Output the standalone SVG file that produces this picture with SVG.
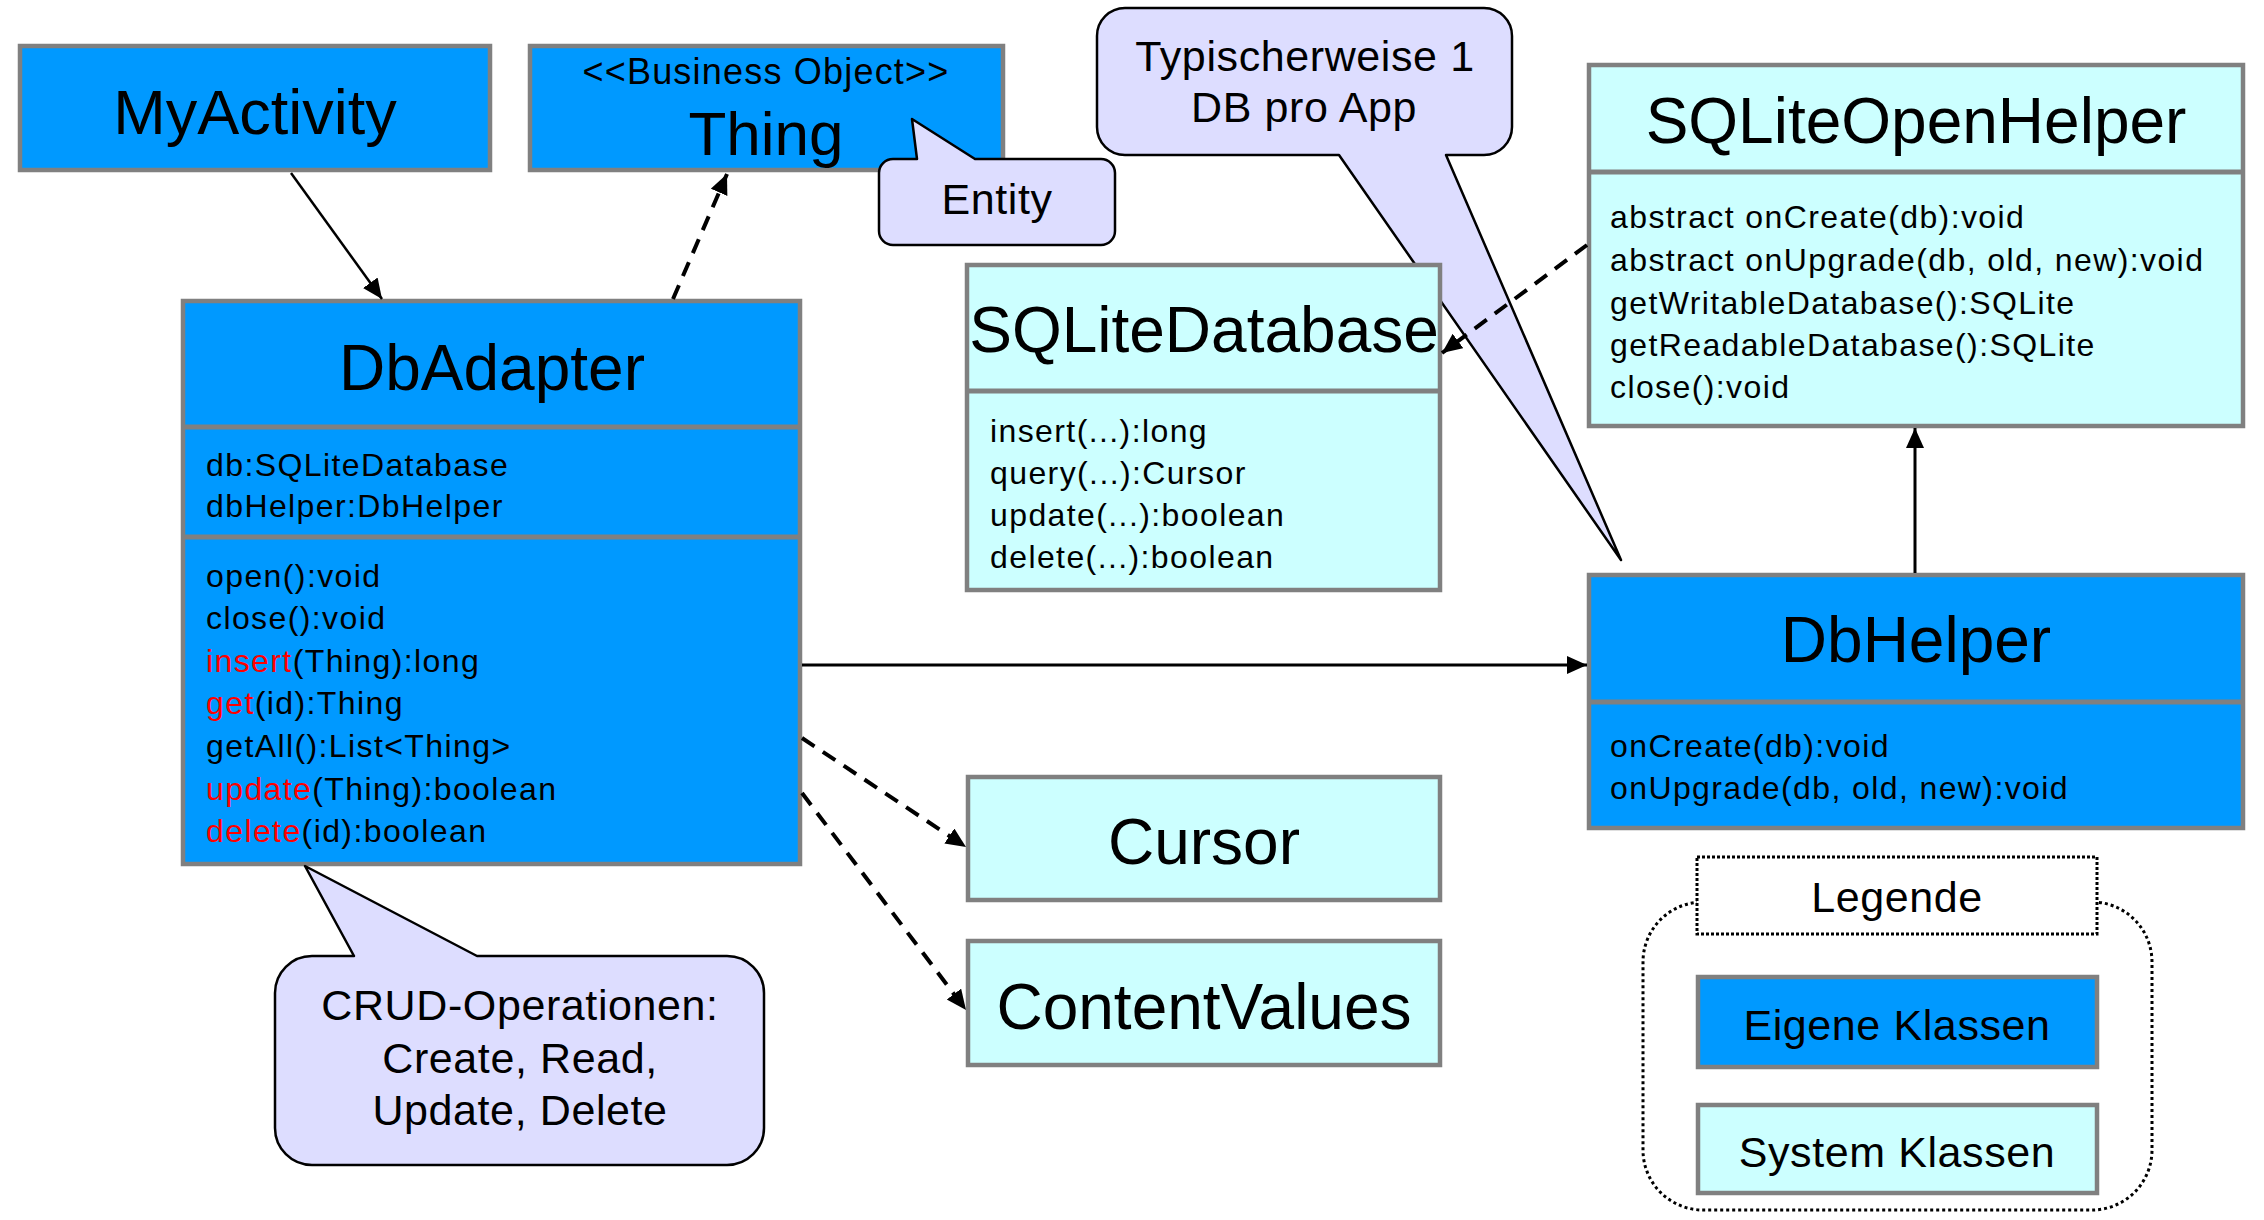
<svg xmlns="http://www.w3.org/2000/svg" width="2264" height="1220" viewBox="0 0 2264 1220">
<defs>
<style>
.own{fill:#0099FF;stroke:#808080;stroke-width:4.5}
.sys{fill:#CCFFFF;stroke:#808080;stroke-width:4.5}
.div{stroke:#808080;stroke-width:5}
.call{fill:#DDDDFF;stroke:#000;stroke-width:2.5;stroke-linejoin:round}
text{font-family:"Liberation Sans",Arial,sans-serif;fill:#000}
.title{font-size:64px;text-anchor:middle}
.small{font-size:32px;letter-spacing:1.4px}
.mid{font-size:43px;letter-spacing:0.6px;text-anchor:middle}
.red{fill:#FF0000}
.solid{stroke:#000;stroke-width:3;fill:none}
.dash{stroke:#000;stroke-width:4;fill:none;stroke-dasharray:15 10}
</style>
<marker id="ah" markerUnits="userSpaceOnUse" markerWidth="22" markerHeight="20" refX="20" refY="9" orient="auto"><path d="M0,0 L20,9 L0,18 z" fill="#000"/></marker>
</defs>
<rect width="2264" height="1220" fill="#FFFFFF"/>

<g id="note-db">
<path class="call" d="M1125,8 H1484 A28,28 0 0 1 1512,36 V127 A28,28 0 0 1 1484,155 H1446 L1621,560 L1339,155 H1125 A28,28 0 0 1 1097,127 V36 A28,28 0 0 1 1125,8 Z"/>
<text class="mid" x="1305" y="71">Typischerweise 1</text>
<text class="mid" x="1304" y="122">DB pro App</text>
</g>

<g id="MyActivity">
<rect class="own" x="20" y="46" width="470" height="124"/>
<text class="title" x="255" y="134" style="font-size:63px">MyActivity</text>
</g>

<g id="Thing">
<rect class="own" x="530" y="46" width="473" height="124"/>
<text x="766" y="84" style="font-size:36px;letter-spacing:1.2px;text-anchor:middle">&lt;&lt;Business Object&gt;&gt;</text>
<text class="title" x="766" y="155" style="font-size:62px">Thing</text>
</g>

<g id="DbAdapter">
<rect class="own" x="183" y="301" width="617" height="563"/>
<line class="div" x1="183" y1="427" x2="800" y2="427"/>
<line class="div" x1="183" y1="537" x2="800" y2="537"/>
<text class="title" x="492" y="390">DbAdapter</text>
<text class="small" x="206" y="476">db:SQLiteDatabase</text>
<text class="small" x="206" y="517">dbHelper:DbHelper</text>
<text class="small" x="206" y="587">open():void</text>
<text class="small" x="206" y="629">close():void</text>
<text class="small" x="206" y="672"><tspan class="red">insert</tspan>(Thing):long</text>
<text class="small" x="206" y="714"><tspan class="red">get</tspan>(id):Thing</text>
<text class="small" x="206" y="757">getAll():List&lt;Thing&gt;</text>
<text class="small" x="206" y="800"><tspan class="red">update</tspan>(Thing):boolean</text>
<text class="small" x="206" y="842"><tspan class="red">delete</tspan>(id):boolean</text>
</g>

<g id="SQLiteDatabase">
<rect class="sys" x="967" y="265" width="473" height="325"/>
<line class="div" x1="967" y1="391" x2="1440" y2="391"/>
<text class="title" x="1204" y="352">SQLiteDatabase</text>
<text class="small" x="990" y="442">insert(...):long</text>
<text class="small" x="990" y="484">query(...):Cursor</text>
<text class="small" x="990" y="526">update(...):boolean</text>
<text class="small" x="990" y="568">delete(...):boolean</text>
</g>

<g id="SQLiteOpenHelper">
<rect class="sys" x="1589" y="65" width="654" height="361"/>
<line class="div" x1="1589" y1="172" x2="2243" y2="172"/>
<text class="title" x="1916" y="143">SQLiteOpenHelper</text>
<text class="small" x="1610" y="228">abstract onCreate(db):void</text>
<text class="small" x="1610" y="271">abstract onUpgrade(db, old, new):void</text>
<text class="small" x="1610" y="314">getWritableDatabase():SQLite</text>
<text class="small" x="1610" y="356">getReadableDatabase():SQLite</text>
<text class="small" x="1610" y="398">close():void</text>
</g>

<g id="DbHelper">
<rect class="own" x="1589" y="575" width="654" height="253"/>
<line class="div" x1="1589" y1="702" x2="2243" y2="702"/>
<text class="title" x="1916" y="662">DbHelper</text>
<text class="small" x="1610" y="757">onCreate(db):void</text>
<text class="small" x="1610" y="799">onUpgrade(db, old, new):void</text>
</g>

<g id="Cursor">
<rect class="sys" x="968" y="777" width="472" height="123"/>
<text class="title" x="1204" y="864">Cursor</text>
</g>

<g id="ContentValues">
<rect class="sys" x="968" y="941" width="472" height="124"/>
<text class="title" x="1204" y="1029">ContentValues</text>
</g>

<g id="note-entity">
<path class="call" d="M893,159 H917 L912,119 L975,159 H1101 A14,14 0 0 1 1115,173 V231 A14,14 0 0 1 1101,245 H893 A14,14 0 0 1 879,231 V173 A14,14 0 0 1 893,159 Z"/>
<text class="mid" x="997" y="214">Entity</text>
</g>

<g id="note-crud">
<path class="call" d="M312,956 H354 L305,866 L477,956 H727 A37,37 0 0 1 764,993 V1128 A37,37 0 0 1 727,1165 H312 A37,37 0 0 1 275,1128 V993 A37,37 0 0 1 312,956 Z"/>
<text class="mid" x="520" y="1020">CRUD-Operationen:</text>
<text class="mid" x="520" y="1073">Create, Read,</text>
<text class="mid" x="520" y="1125">Update, Delete</text>
</g>

<g id="legend">
<rect x="1643" y="902" width="509" height="308" rx="60" ry="60" fill="none" stroke="#000" stroke-width="3" stroke-dasharray="3 3"/>
<rect x="1697" y="857" width="400" height="77" fill="#FFFFFF" stroke="#000" stroke-width="3" stroke-dasharray="3 2"/>
<text class="mid" x="1897" y="912">Legende</text>
<rect class="own" x="1698" y="977" width="399" height="90"/>
<text class="mid" x="1897" y="1040">Eigene Klassen</text>
<rect class="sys" x="1698" y="1105" width="399" height="88"/>
<text class="mid" x="1897" y="1167">System Klassen</text>
</g>

<g id="connectors">
<line class="solid" style="stroke-width:2.5" x1="291" y1="173" x2="382" y2="299" marker-end="url(#ah)"/>
<line class="dash" x1="673" y1="299" x2="727" y2="174" marker-end="url(#ah)"/>
<line class="solid" x1="802" y1="665" x2="1587" y2="665" marker-end="url(#ah)"/>
<line class="dash" x1="802" y1="738" x2="966" y2="847" marker-end="url(#ah)"/>
<line class="dash" x1="802" y1="793" x2="966" y2="1010" marker-end="url(#ah)"/>
<line class="solid" x1="1915" y1="573" x2="1915" y2="428" marker-end="url(#ah)"/>
<line class="dash" x1="1587" y1="245" x2="1442" y2="353" marker-end="url(#ah)"/>
</g>
</svg>
